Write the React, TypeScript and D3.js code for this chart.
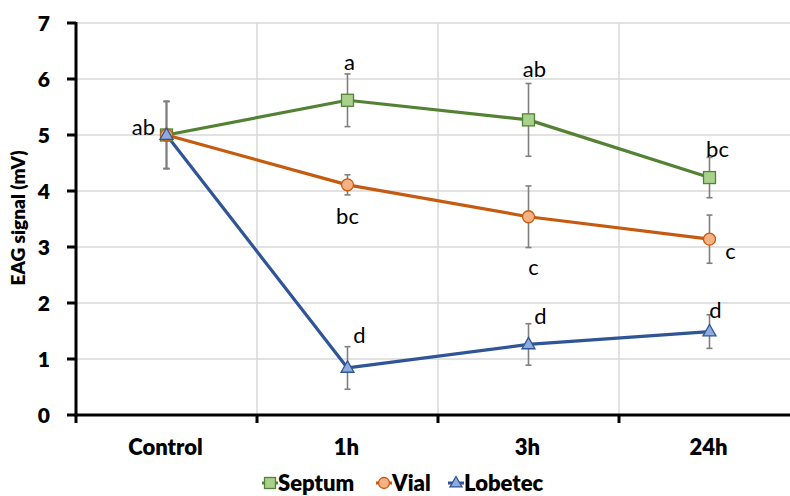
import React from "react";
import * as d3 from "d3";

// Time points after exposure
const categories = ["Control", "1h", "3h", "24h"];

// Mean EAG response (mV) per treatment
const septumValues = [5.0, 5.62, 5.27, 4.24];
const vialValues = [5.0, 4.11, 3.54, 3.14];
const lobetecValues = [5.0, 0.84, 1.26, 1.49];

// Standard error of each mean
const septumErrors = [0.6, 0.47, 0.65, 0.36];
const vialErrors = [0.6, 0.18, 0.55, 0.43];
const lobetecErrors = [0.6, 0.38, 0.37, 0.3];

// Significance letters (null = no letter drawn)
const septumLetters = ["ab", "a", "ab", "bc"];
const vialLetters = [null, "bc", "c", "c"];
const lobetecLetters = [null, "d", "d", "d"];

const yTicks = [0, 1, 2, 3, 4, 5, 6, 7];

const W = 790;
const H = 496;
const FONT = "Lato, 'Open Sans', sans-serif";

// Pixel offsets of each letter's baseline from its point
const septumLabelOffsets = [[-23, 0], [2, -30], [6, -43], [8, -21]];
const vialLabelOffsets = [[0, 0], [0, 39], [5, 58], [21, 20]];
const lobetecLabelOffsets = [[0, 0], [12, -25], [12, -20], [6, -14]];

type Series = {
  name: string;
  values: number[];
  errors: number[];
  letters: (string | null)[];
  offsets: number[][];
  line: string;
  fill: string;
  shape: "square" | "circle" | "triangle";
};

const series: Series[] = [
  { name: "Septum", values: septumValues, errors: septumErrors, letters: septumLetters, offsets: septumLabelOffsets, line: "#548235", fill: "#A9D18E", shape: "square" },
  { name: "Vial", values: vialValues, errors: vialErrors, letters: vialLetters, offsets: vialLabelOffsets, line: "#C55A11", fill: "#F4B183", shape: "circle" },
  { name: "Lobetec", values: lobetecValues, errors: lobetecErrors, letters: lobetecLetters, offsets: lobetecLabelOffsets, line: "#2F5597", fill: "#8FAADC", shape: "triangle" },
];

function Marker({ shape, x, y, fill, stroke, size = 12 }: { shape: string; x: number; y: number; fill: string; stroke: string; size?: number }) {
  if (shape === "square") {
    return <rect x={x - size / 2} y={y - size / 2} width={size} height={size} fill={fill} stroke={stroke} strokeWidth={1.3} />;
  }
  if (shape === "circle") {
    return <circle cx={x} cy={y} r={size / 2} fill={fill} stroke={stroke} strokeWidth={1.3} />;
  }
  const s = size + 1;
  const h = s * 0.87;
  const pts = `${x},${y - h * 0.62} ${x + s / 2},${y + h * 0.38} ${x - s / 2},${y + h * 0.38}`;
  return <polygon points={pts} fill={fill} stroke={stroke} strokeWidth={1.3} />;
}

export default function App() {
  const x = d3.scaleBand<string>().domain(categories).range([76, 800]).padding(0);
  const y = d3.scaleLinear().domain([0, 7]).range([415, 23]);
  const cx = (c: string) => (x(c) as number) + x.bandwidth() / 2;

  const line = d3
    .line<number>()
    .x((_, i) => cx(categories[i]))
    .y((d) => y(d));

  const boundaries = categories.slice(1).map((c) => x(c) as number);

  return (
    <svg width={W} height={H} style={{ position: "absolute", left: 0, top: 0, background: "#fff" }}>
      <rect width={W} height={H} fill="#fff" />
      {/* horizontal grid */}
      {yTicks.slice(1).map((t) => (
        <line key={"gy" + t} x1={76} x2={W} y1={y(t)} y2={y(t)} stroke="#d9d9d9" strokeWidth={1.5} />
      ))}
      {/* vertical grid between categories */}
      {boundaries.map((b, i) => (
        <line key={"gx" + i} x1={b} x2={b} y1={y(7)} y2={y(0)} stroke="#d9d9d9" strokeWidth={1.5} />
      ))}

      {/* y axis */}
      <line x1={76} x2={76} y1={y(7) - 1} y2={y(0) + 1} stroke="#000" strokeWidth={3} />
      {yTicks.map((t) => (
        <g key={"yt" + t}>
          <line x1={67} x2={76} y1={y(t)} y2={y(t)} stroke="#000" strokeWidth={3} />
          <text x={50} y={y(t)} dy="0.36em" textAnchor="end" fontFamily={FONT} fontWeight={800} fontSize={21} fill="#000">
            {t}
          </text>
        </g>
      ))}
      <text
        transform={`translate(25,${(y(0) + y(7)) / 2 - 1}) rotate(-90)`}
        textAnchor="middle"
        fontFamily={FONT}
        fontWeight={800}
        fontSize={19}
        fill="#000"
      >
        EAG signal (mV)
      </text>

      {/* x axis */}
      <line x1={74.5} x2={W} y1={y(0)} y2={y(0)} stroke="#000" strokeWidth={3} />
      {[76, ...boundaries].map((b, i) => (
        <line key={"xt" + i} x1={b} x2={b} y1={y(0)} y2={y(0) + 8} stroke="#000" strokeWidth={3} />
      ))}
      {categories.map((c) => (
        <text key={"xl" + c} x={cx(c) - 1} y={455} textAnchor="middle" fontFamily={FONT} fontWeight={800} fontSize={22} fill="#000">
          {c}
        </text>
      ))}

      {/* error bars */}
      {series.map((s) =>
        s.values.map((v, i) => {
          const px = cx(categories[i]);
          const top = y(v + s.errors[i]);
          const bot = y(v - s.errors[i]);
          return (
            <g key={s.name + "e" + i} stroke="#7f7f7f" strokeWidth={1.6}>
              <line x1={px} x2={px} y1={top} y2={bot} />
              <line x1={px - 3} x2={px + 3} y1={top} y2={top} />
              <line x1={px - 3} x2={px + 3} y1={bot} y2={bot} />
            </g>
          );
        })
      )}

      {/* series lines and markers */}
      {series.map((s) => (
        <path key={s.name + "l"} d={line(s.values) as string} fill="none" stroke={s.line} strokeWidth={3.2} strokeLinejoin="round" />
      ))}
      {series.map((s) =>
        s.values.map((v, i) => (
          <Marker key={s.name + "m" + i} shape={s.shape} x={cx(categories[i])} y={y(v)} fill={s.fill} stroke={s.line} />
        ))
      )}

      {/* significance letters */}
      {series.map((s) =>
        s.letters.map((l, i) =>
          l ? (
            <text
              key={s.name + "t" + i}
              x={cx(categories[i]) + s.offsets[i][0]}
              y={y(s.values[i]) + s.offsets[i][1]}
              textAnchor="middle"
              fontFamily={FONT}
              fontSize={22}
              fill="#000"
            >
              {l}
            </text>
          ) : null
        )
      )}

      {/* legend */}
      {(() => {
        const items = [
          { s: series[0], mx: 270 },
          { s: series[1], mx: 384 },
          { s: series[2], mx: 456 },
        ];
        return items.map(({ s, mx }) => (
          <g key={"lg" + s.name}>
            <line x1={mx - 8} x2={mx + 8} y1={483} y2={483} stroke={s.line} strokeWidth={3} />
            <Marker shape={s.shape} x={mx} y={483} fill={s.fill} stroke={s.line} size={11} />
            <text x={mx + 8} y={483} dy="0.36em" fontFamily={FONT} fontWeight={800} fontSize={22} fill="#000">
              {s.name}
            </text>
          </g>
        ));
      })()}
    </svg>
  );
}
